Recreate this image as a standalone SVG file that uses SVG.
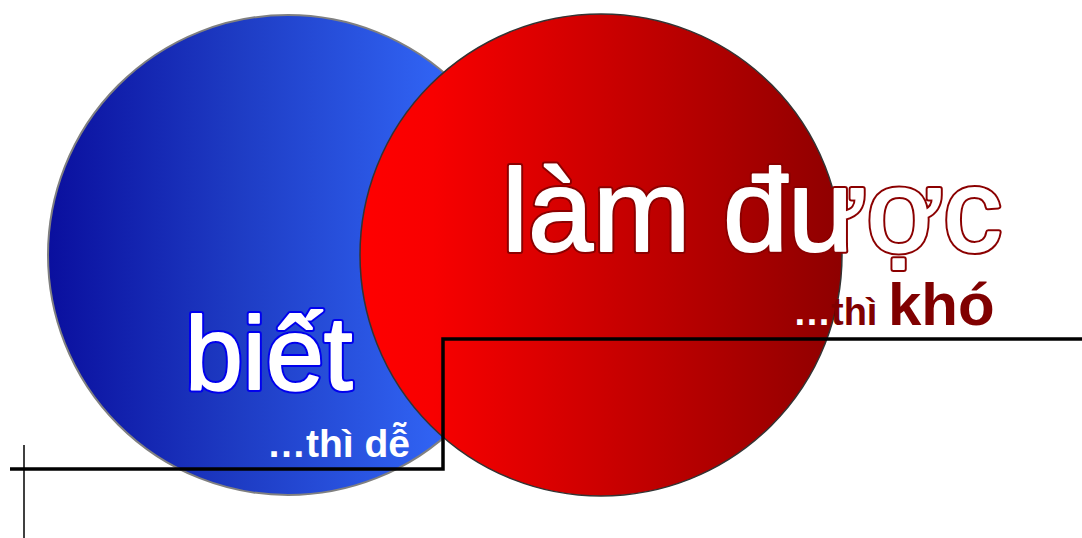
<svg xmlns="http://www.w3.org/2000/svg" width="1082" height="538" viewBox="0 0 1082 538">
<defs>
<linearGradient id="gBlue" x1="0" y1="0" x2="1" y2="0">
<stop offset="0" stop-color="#0a0f9e"/>
<stop offset="0.4" stop-color="#1e3cc4"/>
<stop offset="0.8" stop-color="#3062f2"/>
<stop offset="1" stop-color="#3366ff"/>
</linearGradient>
<linearGradient id="gRed" x1="0" y1="0" x2="1" y2="0">
<stop offset="0" stop-color="#ff0000"/>
<stop offset="0.15" stop-color="#f80000"/>
<stop offset="1" stop-color="#8e0000"/>
</linearGradient>
</defs>
<style>
.t{font-family:"Liberation Sans",Arial,sans-serif}
.outer{stroke-width:6;stroke-linejoin:round}
.inner{fill:#fff;stroke:#fff;stroke-width:2;stroke-linejoin:round}
.small{font-weight:bold}
.conn{fill:none;stroke:#000}
</style>
<g id="blue-circle">
<circle cx="288" cy="255" r="240" fill="url(#gBlue)" stroke="#808080" stroke-width="2"/>
</g>
<g id="red-circle">
<circle cx="601" cy="255" r="241" fill="url(#gRed)" stroke="#333" stroke-width="1.5"/>
</g>
<g id="biet">
<text class="t outer" x="185" y="389" font-size="104" fill="#0000ee" stroke="#0000ee">biết</text>
<text class="t inner" x="185" y="389" font-size="104">biết</text>
<text class="t small" x="267" y="457" font-size="39" fill="#fff">…thì dễ</text>
</g>
<g id="lam-duoc">
<text class="t outer" x="502" y="251" font-size="117" fill="#8b0000" stroke="#8b0000">làm được</text>
<text class="t inner" x="502" y="251" font-size="117">làm được</text>
<text class="t small" y="325"><tspan x="793" font-size="38" fill="#fff">…</tspan><tspan font-size="38" fill="#800000">thì </tspan><tspan font-size="60" fill="#800000">khó</tspan></text>
</g>
<g id="connectors">
<polyline class="conn" stroke-width="3.5" points="10,469 443,469 443,339 1082,339"/>
<line class="conn" stroke-width="1.5" x1="24" y1="445" x2="24" y2="538"/>
</g>
</svg>
